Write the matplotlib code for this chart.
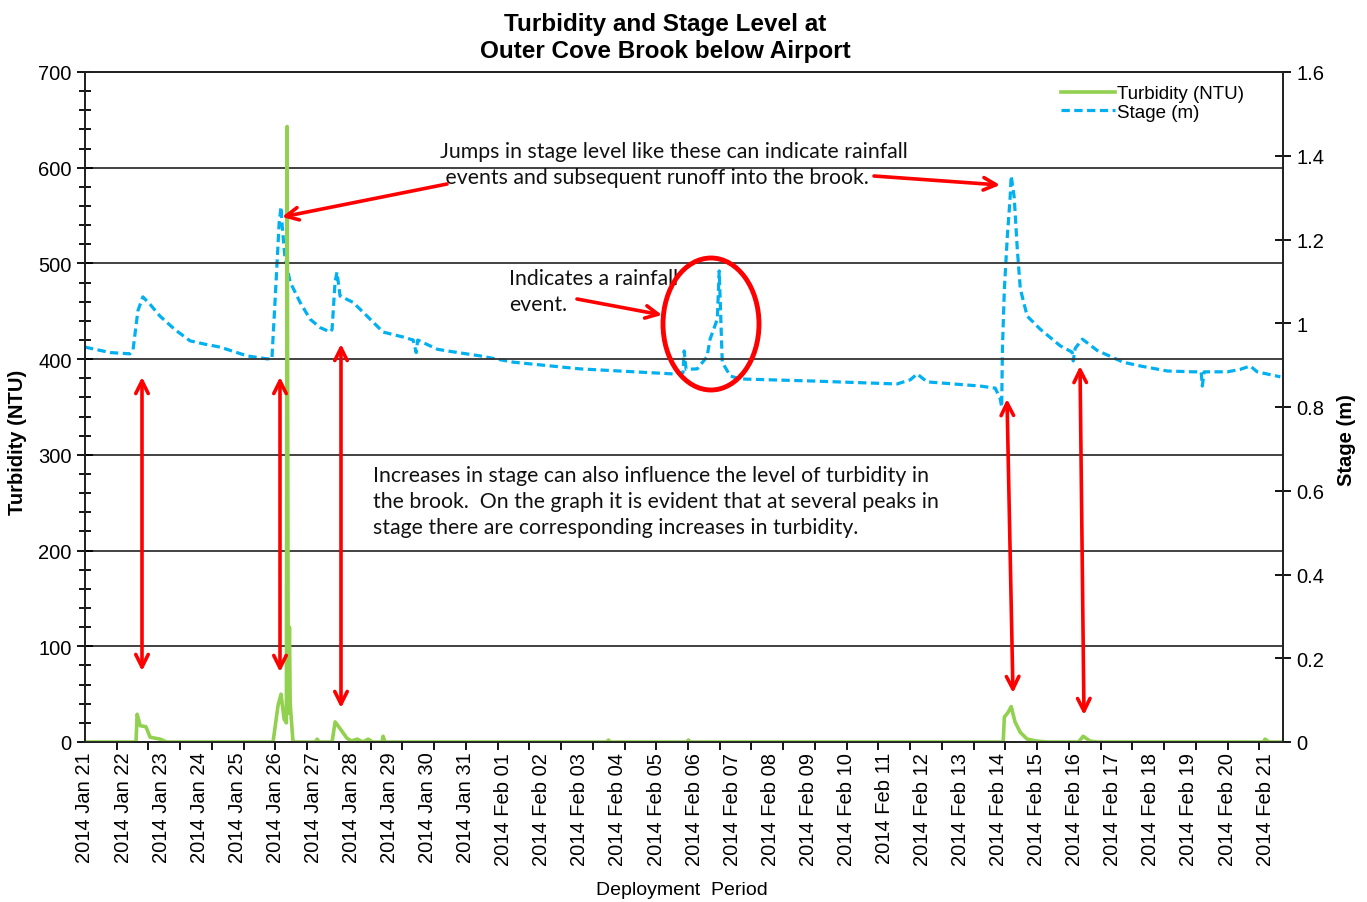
import numpy as np
import matplotlib.pyplot as plt
from matplotlib.patches import Ellipse
from matplotlib.ticker import MultipleLocator, FixedLocator, FuncFormatter

# days since 2014 Jan 21
day_labels = (["2014 Jan %d" % d for d in range(21, 32)] +
              ["2014 Feb %02d" % d for d in range(1, 22)])

stage_day = [0.00, 0.66, 1.18, 1.26, 1.39, 1.52, 1.71, 1.97, 2.36, 2.76, 3.15, 3.55,
             4.26, 4.78, 4.91, 5.02, 5.10, 5.15, 5.18, 5.25, 5.39, 5.65, 5.91, 6.17,
             6.44, 6.49, 6.57, 6.62, 6.70, 7.04, 7.41, 7.83, 8.36, 8.62, 8.70, 8.74,
             9.25, 9.51, 10.38, 11.25, 13.01, 15.45, 15.71, 15.74, 15.79, 16.08, 16.34,
             16.42, 16.61, 16.66, 16.74, 16.95, 17.21, 19.13, 21.33, 21.68, 21.86, 22.12,
             23.52, 23.91, 24.04, 24.08, 24.10, 24.15, 24.23, 24.30, 24.33, 24.41, 24.49,
             24.57, 24.75, 25.09, 25.62, 25.93, 25.96, 26.01, 26.20, 26.59, 27.27, 27.72,
             28.43, 29.11, 29.32, 29.35, 29.40, 30.01, 30.35, 30.61, 30.79, 31.40]
stage_m = [0.943, 0.930, 0.927, 0.935, 1.030, 1.063, 1.045, 1.017, 0.985, 0.958, 0.950, 0.943,
           0.922, 0.915, 0.915, 1.100, 1.240, 1.278, 1.232, 1.160, 1.098, 1.050, 1.010, 0.990,
           0.979, 0.985, 1.100, 1.122, 1.065, 1.050, 1.017, 0.979, 0.967, 0.960, 0.930, 0.960,
           0.938, 0.934, 0.922, 0.907, 0.891, 0.879, 0.882, 0.934, 0.890, 0.891, 0.920,
           0.962, 1.010, 1.125, 0.907, 0.874, 0.867, 0.862, 0.855, 0.865, 0.879, 0.860,
           0.850, 0.845, 0.820, 0.800, 0.940, 1.080, 1.210, 1.297, 1.352, 1.300, 1.177,
           1.082, 1.017, 0.986, 0.946, 0.931, 0.910, 0.940, 0.962, 0.935, 0.907, 0.898,
           0.886, 0.884, 0.884, 0.850, 0.884, 0.884, 0.890, 0.898, 0.884, 0.872]

turb_day = [0.00, 1.34, 1.37, 1.45, 1.60, 1.71, 1.97, 2.15, 4.94, 5.07, 5.15, 5.23, 5.29,
            5.31, 5.34, 5.37, 5.39, 5.46, 5.50, 6.05, 6.10, 6.15, 6.49, 6.57, 6.70, 6.88,
            7.00, 7.15, 7.30, 7.44, 7.55, 7.80, 7.83, 7.88, 13.70, 13.75, 13.80, 15.80,
            15.85, 15.90, 24.12, 24.15, 24.25, 24.33, 24.43, 24.57, 24.75, 25.00, 25.30,
            26.10, 26.22, 26.40, 26.60, 30.95, 31.00, 31.10, 31.47]
turb_ntu = [0, 0, 29, 17, 16, 5, 3, 0, 0, 38, 50, 24, 20,
            643, 30, 120, 40, 2, 0, 0, 3, 0, 0, 21, 14, 4,
            1, 3, 0, 3, 0, 0, 6, 0, 0, 2, 0, 0,
            2, 0, 0, 26, 31, 37, 21, 10, 3, 1, 0,
            0, 6, 1, 0, 0, 3, 0, 0]

GREEN = '#92D050'
BLUE = '#00B0F0'
RED = '#FF0000'

fig = plt.figure(figsize=(13.67, 9.03), dpi=100)
ax = fig.add_axes([85 / 1367, 1 - 743 / 903, 1198 / 1367, 670 / 903])
ax2 = ax.twinx()
ax.set_zorder(ax2.get_zorder() + 1)
ax.patch.set_visible(False)

l2, = ax2.plot(stage_day, stage_m, color=BLUE, lw=2.3, ls=(0, (2.6, 1.4)), label='Stage (m)')
l1, = ax.plot(turb_day, turb_ntu, color=GREEN, lw=2.6, label='Turbidity (NTU)')

xmax = 31.47
ax.set_xlim(0, xmax)
ax.set_ylim(0, 700)
ax2.set_ylim(0, 1.6)

ax.yaxis.set_major_locator(MultipleLocator(100))
ax.yaxis.set_minor_locator(MultipleLocator(20))
ax2.yaxis.set_major_locator(FixedLocator([0, 0.2, 0.4, 0.6, 0.8, 1.0, 1.2, 1.4, 1.6]))
ax2.yaxis.set_major_formatter(FuncFormatter(lambda v, p: '%g' % round(v, 1)))
ax.grid(axis='y', color='#333333', lw=1.3)
ax.set_axisbelow(True)

ax.set_xticks(np.arange(len(day_labels)))
ax.set_xticklabels(day_labels, rotation=90, fontsize=14.5, family='Liberation Sans')
ax.xaxis.set_minor_locator(FixedLocator(np.arange(0, xmax, 0.8337)))
ax.tick_params(axis='x', which='major', length=0, pad=7)
ax.tick_params(axis='x', which='minor', length=6, width=1.3, direction='out')
ax.tick_params(axis='y', which='major', length=12, width=1.3, direction='inout', labelsize=14.5)
ax.tick_params(axis='y', which='minor', length=8, width=1.3, direction='inout')
ax2.tick_params(axis='y', which='major', length=12, width=1.3, direction='inout', labelsize=14.5)
for a in (ax, ax2):
    for lab in a.get_yticklabels():
        lab.set_family('Liberation Sans')
    for s in a.spines.values():
        s.set_linewidth(1.3)
        s.set_color('#222222')

ax.set_ylabel('Turbidity (NTU)', fontsize=14.5, fontweight='bold', family='Liberation Sans')
ax.yaxis.set_label_coords((27 - 85) / 1198, (743 - 442) / 670)
ax2.set_ylabel('Stage (m)', fontsize=14.5, fontweight='bold', family='Liberation Sans')
ax2.yaxis.set_label_coords((1337 - 85) / 1198, (743 - 440) / 670)
fig.text(682 / 1367, 1 - 891 / 903, 'Deployment  Period', ha='center', va='center',
         fontsize=14, family='Liberation Sans')
fig.text(665 / 1367, 1 - 38 / 903, 'Turbidity and Stage Level at\nOuter Cove Brook below Airport',
         ha='center', va='center', fontsize=17.5, fontweight='bold', family='Liberation Sans',
         linespacing=1.2)

ax.legend(handles=[l1, l2], loc='upper right', bbox_to_anchor=(0.980, 1.003), frameon=False,
          prop={'family': 'Liberation Sans', 'size': 13.5}, handlelength=2.9,
          handletextpad=0.1, labelspacing=0.08, borderpad=0.3)


# annotation positions given in reference pixels, converted to axes fraction
def P(x, y):
    return ((x - 85) / 1198, (743 - y) / 670)


note_kw = dict(transform=ax.transAxes, fontsize=15.3, family='Lato', va='center', ha='left',
               color='#111111', linespacing=1.4, zorder=6)
ax.text(*P(440, 165), 'Jumps in stage level like these can indicate rainfall\n'
        ' events and subsequent runoff into the brook.', **note_kw)
ax.text(*P(509, 292), 'Indicates a rainfall\nevent.', **note_kw)
ax.text(*P(373, 502), 'Increases in stage can also influence the level of turbidity in\n'
        'the brook.  On the graph it is evident that at several peaks in\n'
        'stage there are corresponding increases in turbidity.', **note_kw)

single = dict(arrowstyle='->,head_length=0.9,head_width=0.45', color=RED, lw=2.6,
              shrinkA=0, shrinkB=0)
double = dict(arrowstyle='<->,head_length=0.9,head_width=0.45', color=RED, lw=2.6,
              shrinkA=0, shrinkB=0)
for tail, head in [((447, 185), (282, 218)), ((874, 177), (1000, 186)),
                   ((577, 300), (662, 316))]:
    ax.annotate('', xy=P(*head), xytext=P(*tail), xycoords='axes fraction',
                textcoords='axes fraction', arrowprops=single, zorder=7)
for top, bot in [((142, 378), (142, 672)), ((280, 378), (280, 673)),
                 ((341, 345), (341, 709)), ((1007, 400), (1013, 694)),
                 ((1080, 367), (1084, 716))]:
    ax.annotate('', xy=P(*top), xytext=P(*bot), xycoords='axes fraction',
                textcoords='axes fraction', arrowprops=double, zorder=7)

cx, cy = P(711, 325)
ax.add_patch(Ellipse((cx, cy), 96 / 1198, 132 / 670, transform=ax.transAxes, fill=False,
                     edgecolor=RED, lw=3.5, zorder=7))

fig.savefig('out.png', dpi=100)
